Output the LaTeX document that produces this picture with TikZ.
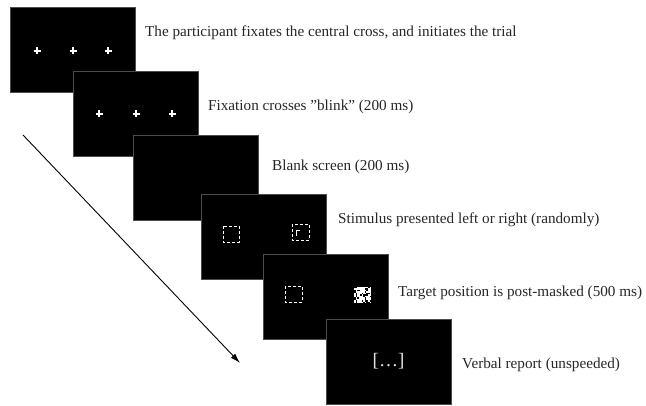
\documentclass[tikz,border=0pt]{standalone}
\usepackage{fontspec}
\setmainfont{Liberation Serif}
\usetikzlibrary{positioning, arrows.meta}
\tikzset{
	screen/.style={draw=gray!60!black, fill=black, line width=0.8pt, minimum width=125pt, minimum height=85pt, inner sep=0pt}, % one display of the trial
	caption/.style={anchor=west, inner sep=0pt, text=black!85, font=\fontsize{15.2}{17}\selectfont},
	fixcross/.style={white, line width=1.5pt},
	frame/.style={white, line width=0.9pt, dash pattern=on 3pt off 2pt}, % dashed placeholder
}

\begin{document}
\begin{tikzpicture}[x=1pt, y=-1pt]
	\useasboundingbox (0,0) rectangle (646,406);
	% time arrow
	\coordinate (tstart) at (23,135);
	\coordinate (tend) at (240,363);
	\draw[line width=0.9pt, -{Latex[length=10pt,width=6pt]}] (tstart) -- (tend);
	% screens
	\node[screen] (s1) at (73,49.5) {};
	\foreach \cx in {37,73,108}
		\draw[fixcross] (\cx-3.5,51) -- (\cx+3.5,51) (\cx,47.5) -- (\cx,54.5);
	\node[screen] (s2) at (135.5,114) {};
	\foreach \cx in {99,136,172}
		\draw[fixcross] (\cx-3.5,114) -- (\cx+3.5,114) (\cx,110.5) -- (\cx,117.5);
	\node[screen] (s3) at (195.5,177.5) {};
	\node[screen] (s4) at (264,236.5) {};
	\draw[frame] (223,226) rectangle (239,242);
	\draw[frame] (292,224) rectangle (309,240);
	\draw[white, line width=0.9pt] (296,236) -- (296,230) -- (300,230);
	\node[screen] (s5) at (325.5,296.5) {};
	\draw[frame] (285,286) rectangle (302,302);
	% post-mask
	\pgfmathsetseed{42}
	\foreach \i in {0,...,10}
		\foreach \j in {0,...,10} {
			\pgfmathrandominteger{\cell}{0}{2}
			\ifnum\cell>0 \fill[white] (354+1.55*\i,287+1.5*\j) rectangle ++(1.55,1.5); \fi
		}
	\node[screen, text=white!90!black, font=\fontsize{19}{21}\selectfont] (s6) at (388.5,361.5) {[…]};
	% captions
	\node[caption] (c1) at (145,33) {The participant fixates the central cross, and initiates the trial};
	\node[caption] (c2) at (208,107) {Fixation crosses ”blink” (200 ms)};
	\node[caption] (c3) at (272,167) {Blank screen (200 ms)};
	\node[caption] (c4) at (338,220) {Stimulus presented left or right (randomly)};
	\node[caption] (c5) at (398,293) {Target position is post-masked (500 ms)};
	\node[caption] (c6) at (462,365) {Verbal report (unspeeded)};
\end{tikzpicture}
\end{document}
